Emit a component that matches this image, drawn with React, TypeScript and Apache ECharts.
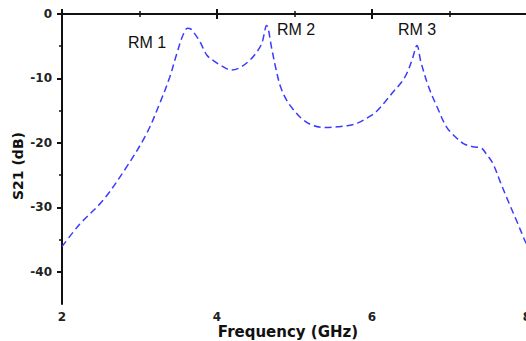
import React, { useEffect, useRef } from "react";
import * as echarts from "echarts";

const freq = [2.0, 2.23, 2.53, 2.83, 3.09, 3.26, 3.39, 3.48, 3.56, 3.62, 3.66, 3.72, 3.78, 3.87, 3.95, 4.05, 4.19, 4.3, 4.43, 4.52, 4.58, 4.64, 4.71, 4.76, 4.82, 4.9, 4.99, 5.1, 5.24, 5.4, 5.55, 5.7, 5.82, 5.97, 6.06, 6.17, 6.28, 6.38, 6.45, 6.52, 6.58, 6.63, 6.73, 6.85, 6.96, 7.07, 7.18, 7.3, 7.41, 7.48, 7.56, 7.66, 7.77, 7.87, 7.97, 8.0];
const s21 = [-36.1, -32.6, -28.9, -23.8, -18.6, -13.9, -9.8, -6.2, -3.3, -2.2, -2.3, -3.2, -4.3, -6.4, -7.2, -8.0, -8.7, -8.3, -7.1, -5.8, -4.5, -1.8, -5.6, -8.5, -11.3, -13.4, -14.9, -16.3, -17.3, -17.6, -17.5, -17.3, -16.9, -15.9, -15.1, -13.6, -12.0, -10.6, -9.2, -7.0, -4.9, -7.4, -11.3, -14.7, -17.5, -19.0, -20.1, -20.6, -20.8, -21.8, -23.2, -26.2, -29.4, -32.2, -35.1, -35.8];
const yMajor = [0, -10, -20, -30, -40];
const yMinor = [-5, -15, -25, -35];
const labels = ["RM 1", "RM 2", "RM 3"];
const xTitle = "Frequency (GHz)";
const yTitle = "S21 (dB)";

export default function App() {
  const ref = useRef<HTMLDivElement>(null);
  useEffect(() => {
    const chart = echarts.init(ref.current!, null, { renderer: "svg" });
    const tickFont = { fontFamily: "DejaVu Sans", fontWeight: "bold", fontSize: 12, color: "#222" };
    const axisLine = { show: true, lineStyle: { color: "#111", width: 2 } };
    chart.setOption({
      animation: false,
      grid: { left: 62, top: 14, width: 465, height: 290, containLabel: false, outerBoundsMode: "none" },
      xAxis: [
        {
          type: "value", min: 2, max: 8, interval: 2, position: "bottom",
          axisLine, splitLine: { show: false },
          axisTick: { show: true, length: 5, lineStyle: { color: "#111", width: 2 } },
          minorTick: { show: true, splitNumber: 2, length: 3, lineStyle: { color: "#111", width: 1.5 } },
          axisLabel: { ...tickFont, margin: 7 },
          name: xTitle, nameLocation: "middle", nameGap: 20, nameMoveOverlap: false,
          nameTextStyle: { fontFamily: "DejaVu Sans", fontWeight: "bold", fontSize: 15, color: "#111", padding: [0, 13, 0, 0] },
        },
        {
          type: "value", min: 2, max: 8, interval: 2, position: "top",
          axisLine, splitLine: { show: false },
          axisTick: { show: true, length: 5, lineStyle: { color: "#111", width: 2 } },
          minorTick: { show: true, splitNumber: 2, length: 3, lineStyle: { color: "#111", width: 1.5 } },
          axisLabel: { show: false },
        },
      ],
      yAxis: [
        {
          type: "value", min: -45, max: 0, position: "left",
          axisLine, splitLine: { show: false },
          axisTick: { show: true, length: 5, customValues: yMajor, lineStyle: { color: "#111", width: 2 } },
          axisLabel: { ...tickFont, margin: 10, customValues: yMajor },
        },
        {
          type: "value", min: -45, max: 0, position: "left",
          axisLine: { show: false }, splitLine: { show: false },
          axisTick: { show: true, length: 3, customValues: yMinor, lineStyle: { color: "#111", width: 1.5 } },
          axisLabel: { show: false },
        },
      ],
      series: [
        {
          type: "line",
          data: freq.map((f, i) => [f, s21[i]]),
          showSymbol: false,
          smooth: 0.35,
          lineStyle: { color: "#3b3bff", width: 1.5, type: [7, 4] },
        },
      ],
      graphic: [
        { type: "text", left: 128, top: 34, style: { text: labels[0], font: "16px 'Liberation Sans'", fill: "#111" } },
        { type: "text", left: 277, top: 21, style: { text: labels[1], font: "16px 'Liberation Sans'", fill: "#111" } },
        { type: "text", left: 398, top: 21, style: { text: labels[2], font: "16px 'Liberation Sans'", fill: "#111" } },
        {
          type: "text", x: 18, y: 166, rotation: Math.PI / 2,
          style: { text: yTitle, font: "bold 14px 'DejaVu Sans'", fill: "#111", align: "center", verticalAlign: "middle" },
        },
      ],
    });
    return () => chart.dispose();
  }, []);
  return <div ref={ref} style={{ position: "fixed", left: 0, top: 0, width: 526, height: 341, background: "#fff" }} />;
}
